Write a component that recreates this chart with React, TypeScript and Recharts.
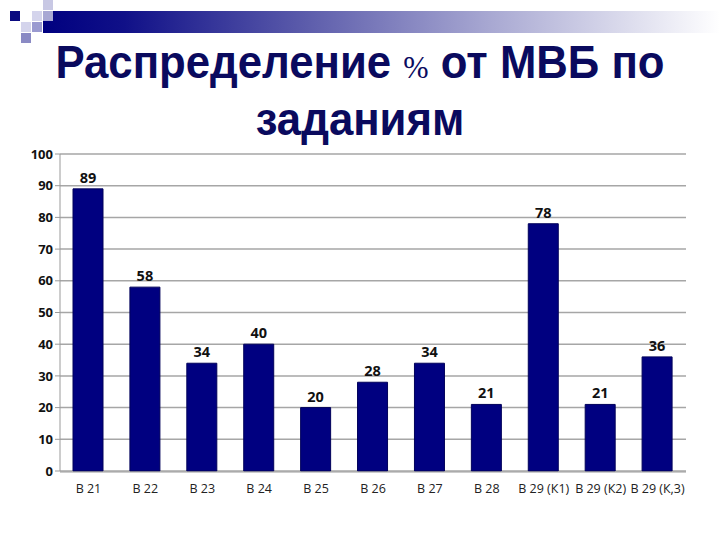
import React from "react";
import { BarChart, Bar, XAxis, YAxis, CartesianGrid, LabelList } from "recharts";

const categories = ["В 21", "В 22", "В 23", "В 24", "В 25", "В 26", "В 27", "В 28", "В 29 (К1)", "В 29 (К2)", "В 29 (К,3)"];
const values = [89, 58, 34, 40, 20, 28, 34, 21, 78, 21, 36];
const yTicks = [0, 10, 20, 30, 40, 50, 60, 70, 80, 90, 100];
const boundaryTicks = [0, 1, 2, 3, 4, 5, 6, 7, 8, 9, 10, 11];

const data = categories.map((c, i) => ({ name: c, value: values[i], pos: i + 0.5 }));

const squares = [
  { x: 10, y: 11, c: "#0a0a80" },
  { x: 43, y: 0, c: "#c8c8e4" },
  { x: 32, y: 11, c: "#d4d4ec" },
  { x: 43, y: 11, c: "#a8a8d4" },
  { x: 21, y: 22, c: "#d4d4ec" },
  { x: 32, y: 22, c: "#9a9ad0" },
  { x: 21, y: 33, c: "#8a8ac4" },
];

export default function App() {
  return (
    <div style={{ position: "absolute", left: 0, top: 0, width: 720, height: 540, background: "#fff", overflow: "hidden" }}>
      <div
        style={{
          position: "absolute",
          left: 43,
          top: 11,
          width: 677,
          height: 22,
          background: "linear-gradient(to right, #000080 0%, #101088 12%, #5a5aaa 38%, #a8a8d2 66%, #ffffff 100%)",
        }}
      />
      {squares.map((s, i) => (
        <div key={i} style={{ position: "absolute", left: s.x, top: s.y, width: 10, height: 10, background: s.c }} />
      ))}
      <div
        style={{
          position: "absolute",
          left: 0,
          top: 36,
          width: 720,
          textAlign: "center",
          fontFamily: "'Liberation Sans', Arial, sans-serif",
          fontWeight: "bold",
          fontSize: 46,
          lineHeight: "52px",
          color: "#0a0a5e",
          transform: "scaleX(0.95)",
          transformOrigin: "center",
        }}
      >
        Распределение <span style={{ fontFamily: "'Liberation Serif', serif", fontWeight: "normal", fontSize: 32 }}>%</span> от МВБ по
        <br />
        заданиям
      </div>
      <div style={{ position: "absolute", left: 0, top: 0 }}>
        <BarChart
          width={720}
          height={540}
          data={data}
          margin={{ top: 154, right: 34, left: 20, bottom: 38 }}
          barCategoryGap={0}
        >
          <CartesianGrid vertical={false} stroke="#a6a6a6" strokeWidth={1.5} />
          <XAxis
            xAxisId="bounds"
            dataKey="pos"
            type="number"
            domain={[0, 11]}
            ticks={boundaryTicks}
            tick={false}
            tickLine={{ stroke: "#9a9a9a" }}
            tickSize={5}
            axisLine={false}
            height={1}
            interval={0}
            allowDataOverflow
          />
          <XAxis
            dataKey="name"
            xAxisId="cat"
            interval={0}
            tickLine={false}
            axisLine={{ stroke: "#9a9a9a" }}
            height={30}
            tick={{ fontSize: 12.5, fill: "#222", fontFamily: "'Open Sans', 'DejaVu Sans', sans-serif" }}
            tickMargin={6}
          />
          <YAxis
            domain={[0, 100]}
            ticks={yTicks}
            width={40}
            axisLine={{ stroke: "#9a9a9a" }}
            tickLine={{ stroke: "#9a9a9a" }}
            tickSize={5}
            tick={{ fontSize: 13, fontWeight: "bold", fill: "#111", fontFamily: "'Open Sans', 'DejaVu Sans', sans-serif" }}
            interval={0}
          />
          <Bar dataKey="value" xAxisId="cat" fill="#000080" stroke="#00005a" strokeWidth={1} barSize={30} isAnimationActive={false}>
            <LabelList
              dataKey="value"
              position="top"
              offset={6}
              style={{ fontSize: 14.5, fontWeight: "bold", fill: "#111", fontFamily: "'Open Sans', 'DejaVu Sans', sans-serif" }}
            />
          </Bar>
        </BarChart>
      </div>
    </div>
  );
}
